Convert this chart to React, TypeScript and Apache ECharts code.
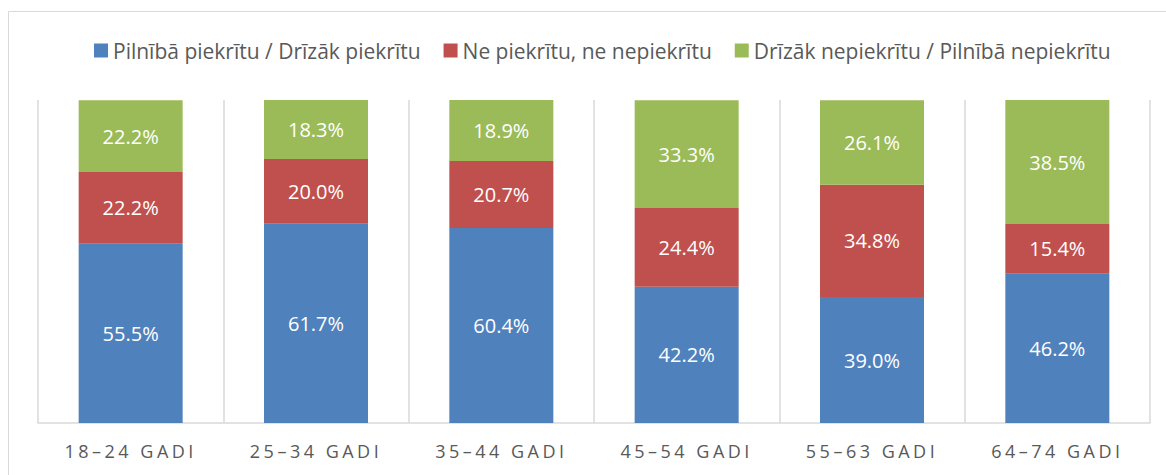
import React, { useEffect, useRef } from "react";
import * as echarts from "echarts";

const categories = ["18–24 GADI", "25–34 GADI", "35–44 GADI", "45–54 GADI", "55–63 GADI", "64–74 GADI"];
const seriesNames = [
  "Pilnībā piekrītu / Drīzāk piekrītu",
  "Ne piekrītu, ne nepiekrītu",
  "Drīzāk nepiekrītu / Pilnībā nepiekrītu",
];
const agree = [55.5, 61.7, 60.4, 42.2, 39.0, 46.2];
const neutral = [22.2, 20.0, 20.7, 24.4, 34.8, 15.4];
const disagree = [22.2, 18.3, 18.9, 33.3, 26.1, 38.5];
const colors = ["#4f81bd", "#c0504d", "#9bbb59"];

export default function App() {
  const ref = useRef<HTMLDivElement>(null);
  useEffect(() => {
    if (!ref.current) return;
    const chart = echarts.init(ref.current, null, { renderer: "svg" });
    const font = "'Open Sans', sans-serif";
    const values = [agree, neutral, disagree];
    chart.setOption({
      animation: false,
      textStyle: { fontFamily: font },
      legend: {
        left: 89,
        top: 35,
        itemWidth: 14,
        itemHeight: 14,
        itemGap: 23,
        icon: "rect",
        textStyle: { fontSize: 21, color: "#595959", fontFamily: font },
        data: seriesNames,
      },
      graphic: [
        {
          type: "polyline",
          shape: { points: [[8.5, 475], [8.5, 11.5], [1166, 11.5]] },
          style: { stroke: "#d9d9d9", lineWidth: 1, fill: "none" },
          silent: true,
        },
      ],
      grid: { left: 38, right: 16, top: 100, bottom: 52, containLabel: false },
      xAxis: {
        type: "category",
        data: categories,
        axisLine: { show: true, lineStyle: { color: "#d9d9d9", width: 1.5 } },
        axisTick: { show: false },
        splitLine: { show: true, lineStyle: { color: "#d9d9d9", width: 1.5 } },
        axisLabel: { color: "#595959", fontSize: 18, margin: 19, fontFamily: font },
      },
      yAxis: {
        type: "value",
        min: 0,
        max: 100,
        show: false,
        splitLine: { show: false },
      },
      series: seriesNames.map((name, i) => ({
        name,
        type: "bar",
        stack: "total",
        barWidth: 104,
        itemStyle: { color: colors[i] },
        label: {
          show: true,
          position: "inside",
          color: "#ffffff",
          fontSize: 20,
          fontFamily: font,
          formatter: (p: any) => Number(p.value).toFixed(1) + "%",
        },
        data: values[i],
      })),
    });
    const texts = ref.current.querySelectorAll("text");
    texts.forEach((t) => {
      if ((t.textContent || "").includes("GADI")) {
        (t as SVGTextElement).style.letterSpacing = "3.5px";
      }
    });
    return () => chart.dispose();
  }, []);
  return <div ref={ref} style={{ width: 1166, height: 475, position: "absolute", left: 0, top: 0 }} />;
}
